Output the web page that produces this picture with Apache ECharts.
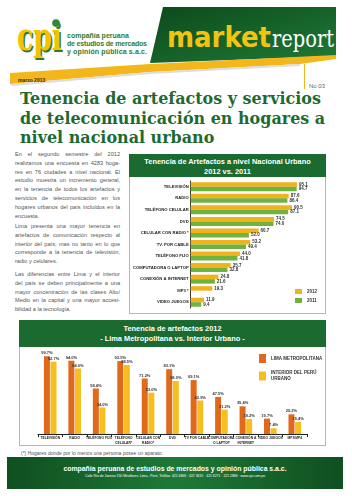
<!DOCTYPE html>
<html>
<head>
<meta charset="utf-8">
<script src="https://cdn.jsdelivr.net/npm/echarts@6/dist/echarts.min.js"></script>
<style>
  body { margin: 0; width: 352px; height: 496px; background: #fff; position: relative; overflow: hidden; font-family: "Liberation Sans", Arial, sans-serif; }
  .abs { position: absolute; }
  .titulo { left: 20px; top: 89px; color: #1d6a31; font-family: "DejaVu Serif", serif; font-weight: bold; font-size: 17px; line-height: 19.5px; white-space: nowrap; transform-origin: 0 0; }
  .texto { left: 15px; width: 105px; color: #555; font-size: 5.6px; line-height: 8.8px; }
  .texto div { text-align: justify; text-align-last: justify; white-space: nowrap; }
  .texto div.u { text-align-last: left; }
  .caja { border: 1px solid #98c9a1; box-sizing: border-box; }
  .cab { background: #1b6a2f; color: #fff; font-weight: bold; font-size: 7.4px; line-height: 9.5px; text-align: center; box-sizing: border-box; }
  .pie { left: 7px; top: 457px; width: 336px; height: 32px; background: linear-gradient(90deg, #0f4f20, #1d7a36 50%, #0f4f20); color: #fff; text-align: center; }
</style>
</head>
<body>

<svg class="abs" style="left:0;top:0" width="352" height="100">
  <defs>
    <linearGradient id="gv" x1="0" y1="0" x2="1" y2="1">
      <stop offset="0" stop-color="#0d4a1c"/>
      <stop offset="1" stop-color="#1f7a36"/>
    </linearGradient>
  </defs>
  <polygon points="163,7 336,7 336,56 150,63" fill="url(#gv)"/>
  <polygon points="10,73 150,64 336,55 336,59 300,64 150,72 10,84" fill="#f3b71b"/>
  <polygon points="10,84 150,72 300,64 300,66 150,74 12,86" fill="#ddd"/>
  <text x="167" y="47" font-family="DejaVu Sans" font-weight="bold" font-size="28" fill="#f2c40f" textLength="104" lengthAdjust="spacingAndGlyphs">market</text>
  <text x="272" y="47" font-family="DejaVu Serif" font-size="25" fill="#fff" textLength="62" lengthAdjust="spacingAndGlyphs">report</text>
  <text x="18.5" y="51.5" font-family="DejaVu Serif" font-weight="bold" font-size="40" fill="#2d7a33" textLength="45" lengthAdjust="spacingAndGlyphs">cpi</text>
  <text x="17" y="50" font-family="DejaVu Serif" font-weight="bold" font-size="40" fill="#f3c300" textLength="45" lengthAdjust="spacingAndGlyphs">cpi</text>
  <circle cx="56" cy="23" r="3.8" fill="#2d8a3a"/>
  <text x="67" y="37.5" font-family="Liberation Sans" font-weight="bold" font-size="7" fill="#2e7d32">compañía peruana</text>
  <text x="67" y="45.5" font-family="Liberation Sans" font-weight="bold" font-size="7" fill="#2e7d32" textLength="80">de estudios de mercados</text>
  <text x="67" y="53.5" font-family="Liberation Sans" font-weight="bold" font-size="7" fill="#2e7d32" textLength="80">y opinión pública s.a.c.</text>
  <text x="18" y="81.5" font-family="Liberation Sans" font-weight="bold" font-size="5" fill="#3a2a10">marzo 2013</text>
  <line x1="304.5" y1="64" x2="304.5" y2="89" stroke="#f3b71b" stroke-width="1"/>
  <text x="309" y="88" font-family="Liberation Sans" font-size="6" fill="#666">No 03</text>
</svg>

<div class="abs titulo" id="titulo">Tenencia de artefactos y servicios<br>de telecomunicación en hogares a<br>nivel nacional urbano</div>

<div class="abs texto" style="top:150px">
  <div>En el segundo semestre del 2012</div>
  <div>realizamos una encuesta en 4283 hoga-</div>
  <div>res en 76 ciudades a nivel nacional. El</div>
  <div>estudio muestra un incremento general,</div>
  <div>en la tenencia de todos los artefactos y</div>
  <div>servicios de telecomunicación en los</div>
  <div>hogares urbanos del país incluidos en la</div>
  <div class="u">encuesta.</div>
</div>
<div class="abs texto" style="top:222px">
  <div>Lima presenta una mayor tenencia en</div>
  <div>artefactos de comunicación respecto al</div>
  <div>interior del país; mas no tanto en lo que</div>
  <div>corresponde a la tenencia de televisión,</div>
  <div class="u">radio y celulares.</div>
</div>
<div class="abs texto" style="top:270px">
  <div>Las diferencias entre Lima y el interior</div>
  <div>del país se deben principalmente a una</div>
  <div>mayor concentración de las clases Alto/</div>
  <div>Medio en la capital y una mayor accesi-</div>
  <div class="u">bilidad a la tecnología.</div>
</div>

<div class="abs caja" style="left:129px;top:154px;width:197px;height:160px"></div>
<div class="abs cab" style="left:129px;top:154px;width:197px;height:23px;padding-top:3px">Tenencia de Artefactos a nivel Nacional Urbano<br>2012 vs. 2011</div>
<div class="abs" id="chartNac" style="left:130px;top:154px;width:196px;height:159px"></div>

<div class="abs caja" style="left:19px;top:320px;width:307px;height:126px"></div>
<div class="abs cab" style="left:19px;top:320px;width:307px;height:27px;padding-top:4px">Tenencia de artefactos 2012<br>- Lima Metropolitana vs. Interior Urbano -</div>
<div class="abs" id="chartLima" style="left:19px;top:320px;width:306px;height:126px"></div>

<div class="abs" style="left:21px;top:450px;font-size:5px;color:#555">(*) Hogares donde por lo menos una persona posee un aparato.</div>

<div class="abs pie">
  <div style="font-weight:bold;font-size:6.9px;margin-top:8px">compañía peruana de estudios de mercados y opinión pública s.a.c.</div>
  <div style="font-size:3.4px;margin-top:2px">Calle Río de Janeiro 150 Miraflores. Lima - Perú. Teléfax: 422 4666 · 422 3615 · 421 6271 · 221 2886 · www.cpi.com.pe</div>
</div>

<script type="text/javascript">
  // Tenencia nacional urbano 2012 vs 2011
  var nacCategorias = ['TELEVISIÓN', 'RADIO', 'TELÉFONO CELULAR', 'DVD', 'CELULAR CON RADIO *', 'TV. POR CABLE', 'TELÉFONO FIJO', 'COMPUTADORA O LAPTOP', 'CONEXIÓN A INTERNET', 'MP3 *', 'VIDEO JUEGOS'];
  var nac2012 = [95.1, 87.6, 90.5, 74.5, 60.7, 53.2, 44.0, 35.7, 24.8, 19.3, 11.9];
  var nac2011 = [94.7, 86.4, 87.1, 74.0, 52.0, 49.4, 41.8, 32.8, 21.6, null, 9.4];

  // Lima metropolitana vs interior urbano 2012
  var limaCategorias = ['TELEVISIÓN', 'RADIO', 'TELÉFONO FIJO', 'TELÉFONO\nCELULAR*', 'CELULAR CON\nRADIO*', 'DVD', 'TV POR CABLE', 'COMPUTADORA\nO LAPTOP', 'CONEXIÓN A\nINTERNET', 'VIDEO JUEGOS', 'MP3/MP4'];
  var limaMetro = [99.7, 94.0, 58.4, 93.5, 71.2, 83.1, 69.1, 47.5, 35.4, 19.7, 25.2];
  var interiorUrbano = [92.7, 84.0, 34.0, 88.5, 53.0, 68.0, 42.9, 31.2, 19.2, 7.4, 15.4];

  // ajustar ancho del titulo
  var t = document.getElementById('titulo');
  t.style.transform = 'scaleX(' + (305 / t.offsetWidth) + ')';

  var lbl = { fontSize: 4.5, fontWeight: 'bold', color: '#333', fontFamily: 'Liberation Sans' };
  var narrow = '"Liberation Sans Narrow", "Liberation Sans"';

  var chartNac = echarts.init(document.getElementById('chartNac'));
  chartNac.setOption({
    animation: false,
    grid: { left: 58, top: 27, width: 114.6, height: 127 },
    legend: {
      data: ['2012', '2011'],
      orient: 'vertical',
      left: 165, top: 135, padding: 0,
      itemWidth: 7, itemHeight: 5, itemGap: 4,
      icon: 'rect',
      textStyle: lbl
    },
    xAxis: { type: 'value', min: 0, max: 100, show: false },
    yAxis: {
      type: 'category',
      inverse: true,
      data: nacCategorias,
      axisLine: { lineStyle: { color: '#333', width: 1 } },
      axisTick: { show: false },
      axisLabel: { fontSize: 4.2, fontWeight: 'bold', color: '#222', margin: 2, fontFamily: 'Liberation Sans' }
    },
    series: [
      {
        name: '2012', type: 'bar', data: nac2012, barWidth: 4.5, barGap: '0%',
        itemStyle: { color: '#f2b21b' },
        label: Object.assign({ show: true, position: 'right', distance: 2, formatter: function (p) { return p.value.toFixed(1); } }, lbl)
      },
      {
        name: '2011', type: 'bar', data: nac2011, barWidth: 4.5, barGap: '0%',
        itemStyle: { color: '#6fb33f' },
        label: Object.assign({ show: true, position: 'right', distance: 2, formatter: function (p) { return p.value.toFixed(1); } }, lbl)
      }
    ]
  });

  var chartLima = echarts.init(document.getElementById('chartLima'));
  chartLima.setOption({
    animation: false,
    grid: { left: 19, top: 36, width: 269, height: 78 },
    legend: {
      data: ['LIMA METROPOLITANA', 'INTERIOR DEL PERÚ\nURBANO'],
      orient: 'vertical',
      left: 240, top: 34, padding: 0,
      itemWidth: 7, itemHeight: 9, itemGap: 7,
      icon: 'rect',
      textStyle: { fontSize: 4.5, fontWeight: 'bold', color: '#333', lineHeight: 6, fontFamily: narrow }
    },
    xAxis: {
      type: 'category',
      data: limaCategorias,
      axisLine: { lineStyle: { color: '#222', width: 1 } },
      axisTick: { show: true, length: 3, lineStyle: { color: '#222' } },
      axisLabel: { interval: 0, fontSize: 3.3, fontWeight: 'bold', color: '#222', margin: 2, lineHeight: 4.5, fontFamily: narrow }
    },
    yAxis: { type: 'value', min: 0, max: 100, show: false },
    series: [
      {
        name: 'LIMA METROPOLITANA', type: 'bar', data: limaMetro, barWidth: 6, barGap: '10%',
        itemStyle: { color: '#e0691c' },
        label: { show: true, position: 'top', distance: 1, fontSize: 4, fontWeight: 'bold', color: '#333', fontFamily: narrow, formatter: function (p) { return p.value.toFixed(1) + '%'; } }
      },
      {
        name: 'INTERIOR DEL PERÚ\nURBANO', type: 'bar', data: interiorUrbano, barWidth: 6, barGap: '10%',
        itemStyle: { color: '#f6be1f' },
        label: { show: true, position: 'top', distance: 1, fontSize: 4, fontWeight: 'bold', color: '#333', fontFamily: narrow, formatter: function (p) { return p.value.toFixed(1) + '%'; } }
      }
    ]
  });
</script>
</body>
</html>
